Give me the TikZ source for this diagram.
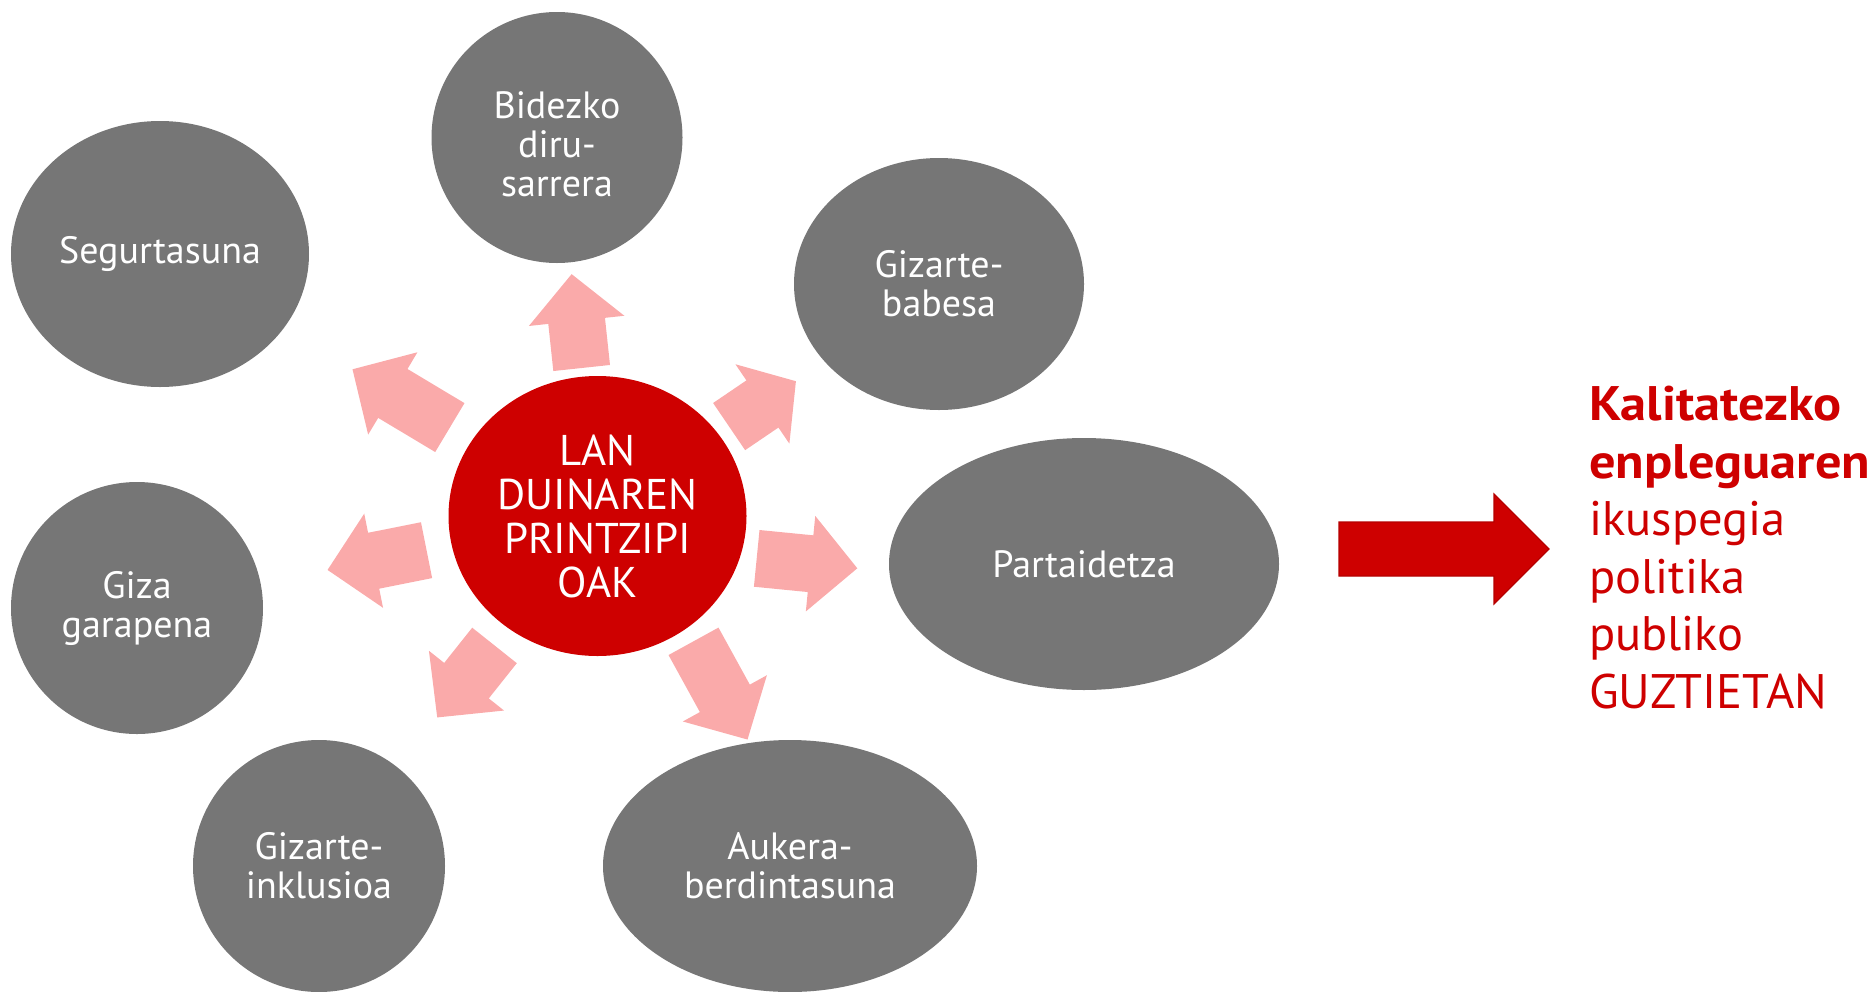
\documentclass[tikz,border=0pt]{standalone}
\usepackage{fontspec}
\setmainfont{PT Sans}[BoldFeatures={FakeStretch=1.08}]
\usetikzlibrary{shapes.geometric,calc}
\definecolor{grisa}{RGB}{118,118,118}
\definecolor{gorria}{RGB}{206,0,0}
\definecolor{arrosa}{RGB}{250,170,170}
\tikzset{
  bola/.style={ellipse, fill=grisa, text=white, align=center, inner sep=0pt,
    font=\fontsize{38}{39}\selectfont}
}
% gezi arrosa: [buru luzera] {oina} {punta}
\newcommand{\gezia}[3][47pt]{%
  \path (#2) coordinate (ga) (#3) coordinate (gb);
  \path ($(gb)!#1!(ga)$) coordinate (gh);
  \fill[arrosa] ($(ga)!28.5pt!90:(gb)$) -- ($(gh)!28.5pt!90:(gb)$) -- ($(gh)!48pt!90:(gb)$) -- (gb)
    -- ($(gh)!48pt!-90:(gb)$) -- ($(gh)!28.5pt!-90:(gb)$) -- ($(ga)!28.5pt!-90:(gb)$) -- cycle;}
\begin{document}
\begin{tikzpicture}[x=1pt, y=-1pt]
  \useasboundingbox (0,0) rectangle (1872,991);
  % erdiko ideia
  \node[bola, fill=gorria, minimum width=298pt, minimum height=280pt,
        font=\fontsize{43}{44}\selectfont] (lan) at (597.5,516) {LAN\\DUINAREN\\PRINTZIPI\\OAK};
  % printzipioak
  \node[bola, minimum width=251pt, minimum height=251pt] (bide) at (557,137.5) {\rule{0pt}{41pt}Bidezko\\diru-\\sarrera};
  \node[bola, minimum width=298pt, minimum height=266pt] (segur) at (160,254) {Segurtasuna};
  \node[bola, minimum width=290pt, minimum height=252pt] (babes) at (939,284) {Gizarte-\\babesa};
  \node[bola, minimum width=390pt, minimum height=252pt] (part) at (1084,564) {Partaidetza};
  \node[bola, minimum width=252pt, minimum height=252pt] (giza) at (137,608) {Giza\\garapena};
  \node[bola, minimum width=252pt, minimum height=252pt] (inklu) at (319,866) {Gizarte-\\inklusioa};
  \node[bola, minimum width=374pt, minimum height=252pt] (aukera) at (790,866) {Aukera-\\berdintasuna};
  % gezi arrosak
  \gezia{$(lan)!0.391!(bide)$}{$(lan)!0.639!(bide)$}
  \gezia{$(lan)!0.3375!(segur)$}{$(lan)!0.560!(segur)$}
  \gezia[40.5pt]{$(lan)!0.3854!(babes)$}{$(lan)!0.581!(babes)$}
  \gezia{$(lan)!0.3326!(part)+(-2.6,26.4)$}{$(lan)!0.5394!(part)+(-2.6,26.4)$}
  \gezia{$(lan)!0.3712!(giza)$}{$(lan)!0.5862!(giza)$}
  \gezia{$(lan)!0.3698!(inklu)$}{$(lan)!0.5755!(inklu)$}
  \gezia{$(lan)!0.3906!(aukera)+(20.8,-11.4)$}{$(lan)!0.6712!(aukera)+(20.8,-11.4)$}
  % gezi handia eta ondorioa
  \filldraw[fill=gorria, draw=gorria!88!black, line width=1.2pt] (1339,522) -- (1494,522) -- (1494,494)
        -- (1549,549) -- (1494,604) -- (1494,576) -- (1339,576) -- cycle;
  \node[anchor=north west, inner sep=0pt, align=left, text=gorria,
        font=\fontsize{48.5}{57.5}\selectfont] (ikus) at (1589,386)
        {\textbf{Kalitatezko}\\\textbf{enpleguaren}\\ikuspegia\\politika\\publiko\\GUZTIETAN};
\end{tikzpicture}
\end{document}
